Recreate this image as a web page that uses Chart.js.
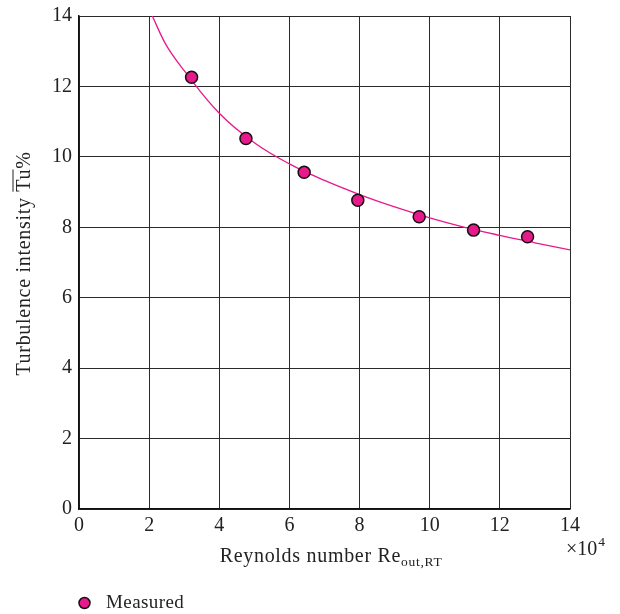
<!DOCTYPE html>
<html>
<head>
<meta charset="utf-8">
<script src="https://cdn.jsdelivr.net/npm/chart.js@4/dist/chart.umd.min.js"></script>
<style>
  html, body { margin: 0; padding: 0; background: #fff; }
  canvas { display: block; }
</style>
</head>
<body>
<canvas id="c" width="620" height="614"></canvas>
<script>
// Measured turbulence intensity against outlet Reynolds number (x in units of 10^4)
const measuredRe = [3.21, 4.76, 6.42, 7.95, 9.70, 11.25, 12.79];
const measuredTu = [12.26, 10.52, 9.56, 8.77, 8.30, 7.92, 7.73];

// Fitted trend curve, sampled along the axis
const fitRe = [2.09, 2.5, 3, 4, 5, 6, 7, 8, 9, 10, 11, 12, 13, 14];
const fitTu = [14.0, 13.15, 12.45, 11.24, 10.40, 9.80, 9.33, 8.93, 8.58, 8.27, 8.00, 7.77, 7.56, 7.36];

// Axis ticks
const xTicks = [0, 2, 4, 6, 8, 10, 12, 14];
const yTicks = [0, 2, 4, 6, 8, 10, 12, 14];

const FONT = '"Liberation Serif", "DejaVu Serif", serif';
const PINK = '#e8198b';

const toPoints = (xs, ys) => xs.map((x, i) => ({ x: x, y: ys[i] }));

// Axis titles (with subscript / overline) and the legend row
const annotations = {
  id: 'annotations',
  afterDraw(chart) {
    const ctx = chart.ctx;
    const area = chart.chartArea;
    ctx.save();
    ctx.fillStyle = '#222';
    ctx.textBaseline = 'alphabetic';
    ctx.textAlign = 'left';
    const big = '20px ' + FONT;
    const small = '13.5px ' + FONT;
    const spacing = '0.7px';

    // x-axis title: Reynolds number Re_out,RT
    const main = 'Reynolds number Re';
    const sub = 'out,RT';
    ctx.letterSpacing = spacing;
    ctx.font = big;
    const wMain = ctx.measureText(main).width;
    ctx.font = small;
    const wSub = ctx.measureText(sub).width;
    const x0 = 331 - (wMain + wSub) / 2;
    const baseX = 562;
    ctx.font = big;
    ctx.fillText(main, x0, baseX);
    ctx.font = small;
    ctx.fillText(sub, x0 + wMain, baseX + 4);

    // multiplier ×10^4
    ctx.letterSpacing = '0px';
    ctx.font = big;
    const mul = '\u00d710';
    ctx.fillText(mul, 566, 555);
    const wMul = ctx.measureText(mul).width;
    ctx.font = small;
    ctx.fillText('4', 566 + wMul + 1, 546);

    // y-axis title: Turbulence intensity Tu% (Tu overlined)
    ctx.save();
    ctx.letterSpacing = spacing;
    ctx.translate(23, (area.top + area.bottom) / 2 + 1);
    ctx.rotate(-Math.PI / 2);
    ctx.font = big;
    const p1 = 'Turbulence intensity ';
    const p2 = 'Tu';
    const p3 = '%';
    const w1 = ctx.measureText(p1).width;
    const w2 = ctx.measureText(p2).width;
    const w3 = ctx.measureText(p3).width;
    const sx = -(w1 + w2 + w3) / 2;
    const by = 7;
    ctx.fillText(p1, sx, by);
    ctx.fillText(p2, sx + w1, by);
    ctx.fillText(p3, sx + w1 + w2, by);
    ctx.strokeStyle = '#222';
    ctx.lineWidth = 1;
    ctx.beginPath();
    ctx.moveTo(sx + w1, by - 17);
    ctx.lineTo(sx + w1 + w2 - 0.7, by - 17);
    ctx.stroke();
    ctx.restore();

    // legend entry for the measured points
    const ds = chart.data.datasets[0];
    ctx.beginPath();
    ctx.arc(84.5, 603, 5.5, 0, Math.PI * 2);
    ctx.fillStyle = ds.backgroundColor;
    ctx.fill();
    ctx.lineWidth = 1.5;
    ctx.strokeStyle = ds.borderColor;
    ctx.stroke();
    ctx.fillStyle = '#222';
    ctx.letterSpacing = '0.4px';
    ctx.font = '19px ' + FONT;
    ctx.fillText(ds.label, 106, 608);

    ctx.restore();
  }
};

new Chart(document.getElementById('c'), {
  type: 'scatter',
  data: {
    datasets: [
      {
        label: 'Measured',
        data: toPoints(measuredRe, measuredTu),
        backgroundColor: PINK,
        borderColor: '#111',
        borderWidth: 1.5,
        pointRadius: 6,
        pointHoverRadius: 6,
        order: 0
      },
      {
        label: 'Fit',
        type: 'line',
        data: toPoints(fitRe, fitTu),
        borderColor: PINK,
        borderWidth: 1.3,
        pointRadius: 0,
        fill: false,
        tension: 0.4,
        order: 1
      }
    ]
  },
  options: {
    responsive: false,
    animation: false,
    devicePixelRatio: 1,
    layout: { padding: { top: 16, right: 50, bottom: 0, left: 0 } },
    plugins: {
      legend: { display: false },
      tooltip: { enabled: false }
    },
    scales: {
      x: {
        type: 'linear',
        min: 0,
        max: 14,
        afterBuildTicks: s => { s.ticks = xTicks.map(v => ({ value: v })); },
        afterFit: s => {
          s.height = 105;
          s.paddingLeft = 0; s.paddingRight = 0; s.paddingTop = 0; s.paddingBottom = 0;
        },
        grid: { color: '#2a2a2a', lineWidth: 1, drawTicks: false },
        border: { color: '#111', width: 1.5 },
        ticks: { color: '#222', padding: 5, font: { family: FONT, size: 20 } }
      },
      y: {
        type: 'linear',
        min: 0,
        max: 14,
        afterBuildTicks: s => { s.ticks = yTicks.map(v => ({ value: v })); },
        afterFit: s => {
          s.width = 79;
          s.paddingLeft = 0; s.paddingRight = 0; s.paddingTop = 0; s.paddingBottom = 0;
        },
        grid: { color: '#2a2a2a', lineWidth: 1, drawTicks: false },
        border: { color: '#111', width: 1.5 },
        ticks: { color: '#222', padding: 7, font: { family: FONT, size: 20 } }
      }
    }
  },
  plugins: [annotations]
});
</script>
</body>
</html>
